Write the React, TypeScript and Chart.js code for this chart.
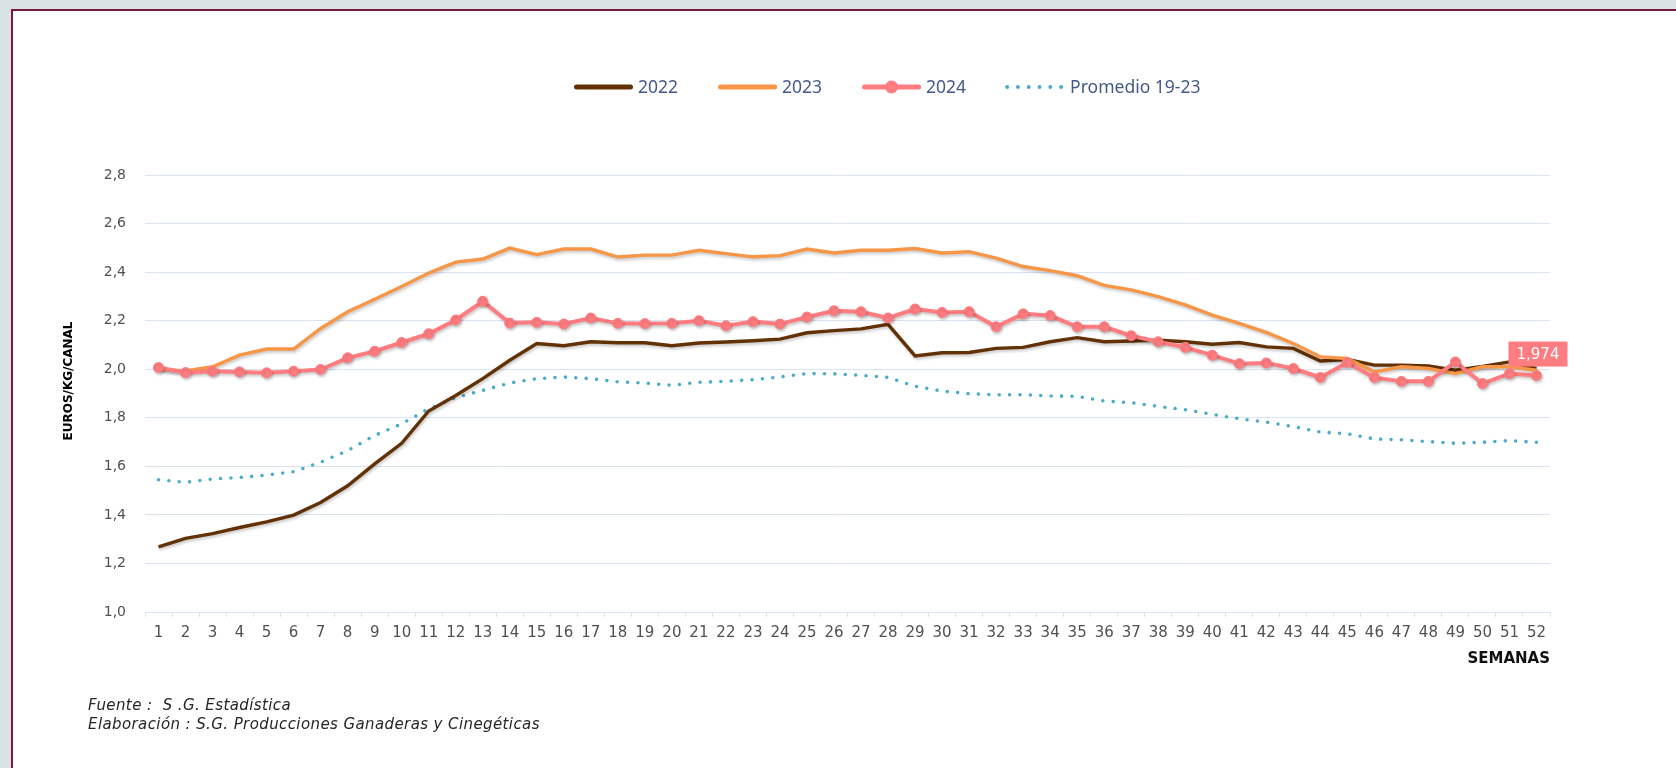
import React, { useEffect, useRef } from 'react';
import { Chart, registerables } from 'chart.js';

Chart.register(...registerables);

// ---------- DATA ----------
const weeks: string[] = [
  '1', '2', '3', '4', '5', '6', '7', '8', '9', '10', '11', '12', '13',
  '14', '15', '16', '17', '18', '19', '20', '21', '22', '23', '24', '25', '26',
  '27', '28', '29', '30', '31', '32', '33', '34', '35', '36', '37', '38', '39',
  '40', '41', '42', '43', '44', '45', '46', '47', '48', '49', '50', '51', '52',
];

const serie2022: number[] = [
  1.268, 1.303, 1.323, 1.348, 1.371, 1.399, 1.451, 1.520, 1.610, 1.695, 1.828, 1.892, 1.961,
  2.037, 2.106, 2.097, 2.113, 2.109, 2.109, 2.097, 2.108, 2.112, 2.117, 2.124, 2.150, 2.159,
  2.166, 2.185, 2.055, 2.068, 2.069, 2.086, 2.090, 2.113, 2.130, 2.113, 2.116, 2.120, 2.113,
  2.103, 2.110, 2.092, 2.086, 2.034, 2.040, 2.017, 2.017, 2.014, 1.996, 2.012, 2.030, 2.003,
];

const serie2023: number[] = [
  2.000, 1.993, 2.010, 2.058, 2.083, 2.083, 2.168, 2.237, 2.288, 2.341, 2.396, 2.441, 2.454,
  2.499, 2.472, 2.495, 2.495, 2.462, 2.470, 2.470, 2.490, 2.476, 2.463, 2.468, 2.495, 2.479,
  2.490, 2.490, 2.497, 2.479, 2.484, 2.458, 2.423, 2.406, 2.385, 2.345, 2.327, 2.299, 2.265,
  2.223, 2.189, 2.152, 2.106, 2.051, 2.044, 1.989, 2.010, 2.003, 1.982, 2.010, 2.010, 1.996,
];

const serie2024: number[] = [
  2.007, 1.986, 1.992, 1.989, 1.985, 1.992, 1.999, 2.047, 2.074, 2.110, 2.146, 2.203, 2.280,
  2.190, 2.193, 2.186, 2.211, 2.189, 2.188, 2.189, 2.200, 2.179, 2.196, 2.186, 2.215, 2.241,
  2.237, 2.211, 2.248, 2.234, 2.237, 2.175, 2.228, 2.221, 2.175, 2.175, 2.138, 2.113, 2.090,
  2.058, 2.023, 2.026, 2.003, 1.966, 2.028, 1.966, 1.950, 1.950, 2.030, 1.941, 1.982, 1.974,
];

const promedio1923: number[] = [
  1.545, 1.534, 1.548, 1.554, 1.564, 1.578, 1.617, 1.665, 1.727, 1.775, 1.837, 1.883, 1.913,
  1.943, 1.961, 1.968, 1.961, 1.948, 1.943, 1.934, 1.946, 1.950, 1.957, 1.968, 1.982, 1.981,
  1.975, 1.966, 1.930, 1.910, 1.899, 1.895, 1.895, 1.890, 1.888, 1.869, 1.862, 1.847, 1.833,
  1.814, 1.796, 1.782, 1.764, 1.741, 1.734, 1.713, 1.709, 1.702, 1.695, 1.699, 1.706, 1.699,
];

const seriesLabels: string[] = ['2022', '2023', '2024', 'Promedio 19-23'];
const Y_MIN = 1.0;
const Y_MAX = 2.8;
const Y_STEP = 0.2;
const Y_TITLE = 'EUROS/KG/CANAL';
const X_TITLE = 'SEMANAS';

// ---------- STYLE ----------
const C2022 = '#623105';
const C2023 = '#f79646';
const C2024 = '#ff7c80';
const CPROM = '#4bacc6';
const GRID = '#d9e3f3';
const TICK_COLOR = '#505050';
const LEGEND_COLOR = '#43598a';
const FONT = '"DejaVu Sans", sans-serif';

const W = 1676;
const H = 768;

const fmt = (v: number, d: number) => v.toFixed(d).replace('.', ',');

const legendPlugin = {
  id: 'customLegend',
  afterDraw(chart: any) {
    const ctx = chart.ctx as CanvasRenderingContext2D;
    const y = 87;
    let x = 574;
    const sw = 59;
    ctx.save();
    ctx.font = '17.5px "Noto Sans", sans-serif';
    ctx.textBaseline = 'middle';
    chart.data.datasets.forEach((ds: any, i: number) => {
      ctx.save();
      ctx.strokeStyle = ds.borderColor;
      ctx.lineCap = 'round';
      if (i === 3) {
        ctx.lineWidth = 4;
        ctx.setLineDash([0, 10.8]);
        ctx.beginPath();
        ctx.moveTo(x + 1, y);
        ctx.lineTo(x + 55.5, y);
        ctx.stroke();
      } else {
        ctx.lineWidth = 5;
        ctx.beginPath();
        ctx.moveTo(x + 2.5, y);
        ctx.lineTo(x + sw - 2.5, y);
        ctx.stroke();
        if (i === 2) {
          ctx.fillStyle = ds.borderColor;
          ctx.beginPath();
          ctx.arc(x + sw / 2, y, 6.5, 0, Math.PI * 2);
          ctx.fill();
        }
      }
      ctx.restore();
      ctx.fillStyle = LEGEND_COLOR;
      ctx.fillText(ds.label, x + sw + 5, y + 1);
      x += sw + 5 + ctx.measureText(ds.label).width + 40;
    });
    ctx.restore();
  },
};

const yTitlePlugin = {
  id: 'yTitle',
  afterDraw(chart: any) {
    const ctx = chart.ctx as CanvasRenderingContext2D;
    ctx.save();
    ctx.translate(69, 381);
    ctx.rotate(-Math.PI / 2);
    ctx.font = 'bold 12px ' + FONT;
    ctx.fillStyle = '#000';
    ctx.textAlign = 'center';
    ctx.textBaseline = 'middle';
    ctx.fillText(Y_TITLE, 0, 0);
    ctx.restore();
  },
};

const shadowPlugin = {
  id: 'lineShadow',
  beforeDatasetDraw(chart: any, args: any) {
    const ctx = chart.ctx as CanvasRenderingContext2D;
    ctx.save();
    if (args.index !== 3) {
      ctx.shadowColor = 'rgba(0,0,0,0.22)';
      ctx.shadowBlur = 3;
      ctx.shadowOffsetX = 1;
      ctx.shadowOffsetY = 2;
    }
  },
  afterDatasetDraw(chart: any) {
    chart.ctx.restore();
  },
};

const lastLabelPlugin = {
  id: 'lastLabel',
  afterDatasetsDraw(chart: any) {
    const meta = chart.getDatasetMeta(2);
    const data = chart.data.datasets[2].data as number[];
    const idx = data.length - 1;
    const pt = meta.data[idx];
    if (!pt) return;
    const ctx = chart.ctx as CanvasRenderingContext2D;
    const text = fmt(data[idx], 3);
    ctx.save();
    ctx.font = '15px ' + FONT;
    const w = ctx.measureText(text).width + 16;
    const h = 25;
    const cx = pt.x + 1.5;
    const bottom = pt.y - 9;
    ctx.fillStyle = C2024;
    ctx.fillRect(cx - w / 2, bottom - h, w, h);
    ctx.fillStyle = '#ffffff';
    ctx.textAlign = 'center';
    ctx.textBaseline = 'middle';
    ctx.fillText(text, cx, bottom - h / 2 + 1);
    ctx.restore();
  },
};

export default function App() {
  const ref = useRef<HTMLCanvasElement>(null);

  useEffect(() => {
    if (!ref.current) return;
    Chart.defaults.font.family = FONT;
    const chart = new Chart(ref.current, {
      type: 'line',
      data: {
        labels: weeks,
        datasets: [
          {
            label: seriesLabels[0],
            data: serie2022,
            borderColor: C2022,
            backgroundColor: C2022,
            borderWidth: 3.4,
            pointRadius: 0,
            tension: 0,
            order: 2,
          },
          {
            label: seriesLabels[1],
            data: serie2023,
            borderColor: C2023,
            backgroundColor: C2023,
            borderWidth: 3.4,
            pointRadius: 0,
            tension: 0,
            order: 1,
          },
          {
            label: seriesLabels[2],
            data: serie2024,
            borderColor: C2024,
            backgroundColor: C2024,
            borderWidth: 4,
            pointRadius: 5,
            pointBorderWidth: 1,
            pointBackgroundColor: C2024,
            pointBorderColor: C2024,
            tension: 0,
            order: 0,
          },
          {
            label: seriesLabels[3],
            data: promedio1923,
            borderColor: CPROM,
            backgroundColor: CPROM,
            borderWidth: 3.6,
            borderDash: [0, 10.4],
            borderCapStyle: 'round',
            pointRadius: 0,
            tension: 0,
            order: 3,
          },
        ],
      },
      options: {
        animation: false,
        responsive: false,
        devicePixelRatio: 1,
        layout: { padding: { left: 0, top: 175, right: W - 1550, bottom: 0 } },
        plugins: {
          legend: { display: false },
          tooltip: { enabled: false },
          title: { display: false },
        },
        scales: {
          x: {
            type: 'category',
            offset: true,
            grid: {
              display: true,
              drawOnChartArea: false,
              drawTicks: true,
              tickLength: 5,
              offset: true,
              color: GRID,
              lineWidth: 1,
            },
            border: { display: true, color: GRID, width: 1 },
            ticks: {
              autoSkip: false,
              maxRotation: 0,
              minRotation: 0,
              padding: 7,
              color: TICK_COLOR,
              font: { size: 15, family: FONT },
            },
            title: {
              display: true,
              text: X_TITLE,
              align: 'end',
              color: '#111',
              font: { size: 15, weight: 'bold', family: FONT },
              padding: { top: 0, bottom: 100 },
            },
            afterFit: (s: any) => {
              s.height = 156;
            },
          },
          y: {
            min: Y_MIN,
            max: Y_MAX,
            grid: { color: GRID, lineWidth: 1, drawTicks: false },
            border: { display: false },
            ticks: {
              stepSize: Y_STEP,
              padding: 19,
              color: TICK_COLOR,
              font: { size: 14, family: FONT },
              callback: (v: any) => fmt(Number(v), 1),
            },
            afterFit: (s: any) => {
              s.width = 145;
            },
          },
        },
      },
      plugins: [shadowPlugin, lastLabelPlugin, legendPlugin, yTitlePlugin],
    } as any);
    return () => chart.destroy();
  }, []);

  return (
    <div
      style={{
        position: 'absolute',
        left: 0,
        top: 0,
        width: W,
        height: H,
        overflow: 'hidden',
        background: '#d9e2e4',
      }}
    >
      <div
        style={{
          position: 'absolute',
          left: 11,
          top: 9,
          width: 1720,
          height: 820,
          borderTop: '2px solid #7a1646',
          borderLeft: '2px solid #7a1646',
          background: '#ffffff',
        }}
      />
      <canvas
        ref={ref}
        width={W}
        height={H}
        style={{ position: 'absolute', left: 0, top: 0, width: W, height: H }}
      />
      <div
        style={{
          position: 'absolute',
          left: 88,
          top: 696,
          font: 'italic 15px/19px "DejaVu Sans", sans-serif',
          letterSpacing: '0.4px',
          color: '#262626',
          whiteSpace: 'pre',
        }}
      >
        <div>{'Fuente :  S .G. Estadística'}</div>
        <div>{'Elaboración : S.G. Producciones Ganaderas y Cinegéticas'}</div>
      </div>
    </div>
  );
}
